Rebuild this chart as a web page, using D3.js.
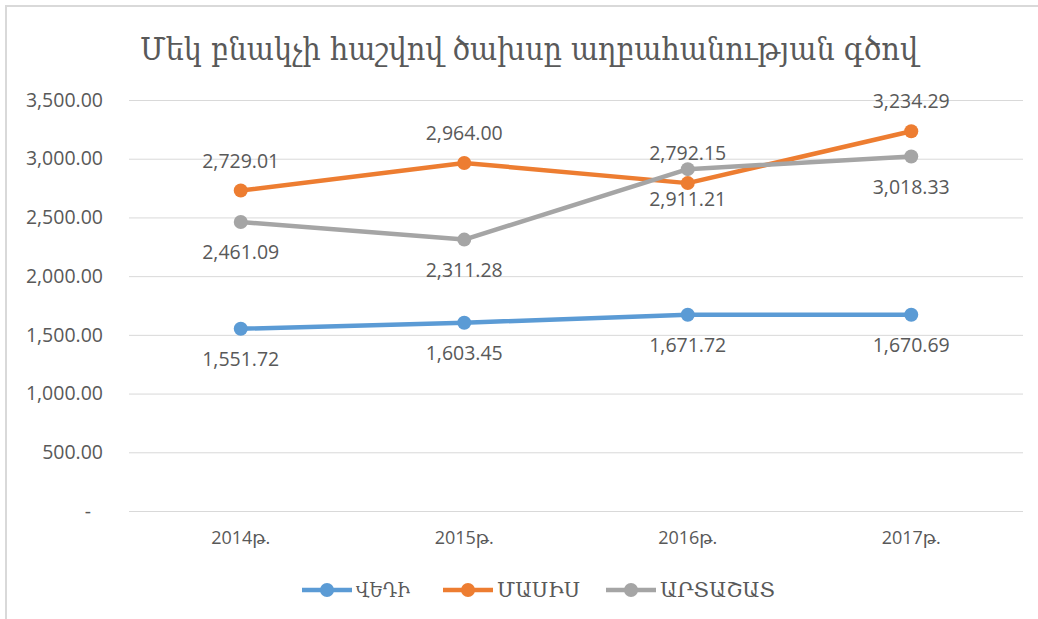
<!DOCTYPE html>
<html>
<head>
<meta charset="utf-8">
<script src="https://cdn.jsdelivr.net/npm/d3@7"></script>
<style>
  body { margin: 0; background: #fff; }
  svg text { font-family: "Open Sans", "DejaVu Sans", sans-serif; }
</style>
</head>
<body>
<svg id="chart"></svg>
<script>
const title = 'Մեկ բնակչի հաշվով ծախսը աղբահանության գծով';
const years = ['2014թ.', '2015թ.', '2016թ.', '2017թ.'];
const seriesNames = ['ՎԵԴԻ', 'ՄԱՍԻՍ', 'ԱՐՏԱՇԱՏ'];
const vedi = [1551.72, 1603.45, 1671.72, 1670.69];
const masis = [2729.01, 2964.00, 2792.15, 3234.29];
const artashat = [2461.09, 2311.28, 2911.21, 3018.33];
const yTicks = [0, 500, 1000, 1500, 2000, 2500, 3000, 3500];

const colors = ['#5B9BD5', '#ED7D31', '#A5A5A5'];
const labelPos = ['below', 'above', 'below'];
const series = [vedi, masis, artashat].map((vals, i) => ({
  name: seriesNames[i], color: colors[i], pos: labelPos[i],
  values: vals.map((v, j) => ({year: years[j], value: v}))
}));

const W = 1038, H = 619;
const svg = d3.select('#chart').attr('width', W).attr('height', H);

// chart border (only top and left visible in the picture)
svg.append('rect')
  .attr('x', 6).attr('y', 6)
  .attr('width', W + 20).attr('height', H + 20)
  .attr('fill', '#fff')
  .attr('stroke', '#d9d9d9')
  .attr('stroke-width', 2);

// scales
const scaleX = d3.scaleBand().domain(years).range([129, 1023]);
const scaleY = d3.scaleLinear().domain([0, 3500]).range([511, 100]);
const cx = d => scaleX(d) + scaleX.bandwidth() / 2;

// title
svg.append('text')
  .attr('x', 140).attr('y', 60)
  .attr('textLength', 778)
  .attr('lengthAdjust', 'spacingAndGlyphs')
  .style('font-family', '"DejaVu Serif", serif')
  .style('font-size', '31px')
  .attr('fill', '#595959')
  .text(title);

// gridlines + y axis
const fmt = d3.format(',.2f');
const yAxis = svg.append('g')
  .attr('transform', 'translate(129,0)')
  .call(d3.axisLeft(scaleY).tickValues(yTicks)
    .tickSize(-(1023 - 129))
    .tickPadding(26)
    .tickFormat(d => d === 0 ? '-' : fmt(d)));
yAxis.select('.domain').remove();
yAxis.selectAll('.tick line').attr('stroke', '#d9d9d9').attr('stroke-width', 1);
yAxis.selectAll('.tick text')
  .attr('fill', '#595959')
  .style('font-size', '19.5px')
  .attr('dx', d => d === 0 ? -12 : 0);

// x axis labels
const xAxis = svg.append('g')
  .attr('transform', 'translate(0,511)')
  .call(d3.axisBottom(scaleX).tickSize(0).tickPadding(20));
xAxis.select('.domain').remove();
xAxis.selectAll('.tick text')
  .attr('fill', '#595959')
  .style('font-size', '18px');

// lines
const line = d3.line().x(d => cx(d.year)).y(d => scaleY(d.value));
const g = svg.append('g');
series.forEach(s => {
  g.append('path')
    .datum(s.values)
    .attr('d', line)
    .attr('fill', 'none')
    .attr('stroke', s.color)
    .attr('stroke-width', 4.5)
    .attr('stroke-linejoin', 'round');
});
series.forEach(s => {
  g.selectAll(null).data(s.values).enter()
    .append('circle')
    .attr('cx', d => cx(d.year))
    .attr('cy', d => scaleY(d.value))
    .attr('r', 7)
    .attr('fill', s.color);
});

// data labels
series.forEach(s => {
  g.selectAll(null).data(s.values).enter()
    .append('text')
    .attr('x', d => cx(d.year))
    .attr('y', d => scaleY(d.value) + (s.pos === 'above' ? -23 : 37))
    .attr('text-anchor', 'middle')
    .attr('fill', '#595959')
    .style('font-size', '19.5px')
    .text(d => fmt(d.value));
});

// legend
const legendX = [302, 443, 606];
const legendW = [54, 83, 115];
const legend = svg.append('g').attr('transform', 'translate(0,590)');
series.forEach((s, i) => {
  const lg = legend.append('g').attr('transform', 'translate(' + legendX[i] + ',0)');
  lg.append('line')
    .attr('x1', 0).attr('x2', 50)
    .attr('stroke', s.color).attr('stroke-width', 4.5);
  lg.append('circle').attr('cx', 25).attr('r', 7).attr('fill', s.color);
  lg.append('text')
    .attr('x', 54).attr('y', 7)
    .attr('textLength', legendW[i])
    .attr('lengthAdjust', 'spacingAndGlyphs')
    .attr('fill', '#595959')
    .style('font-family', '"DejaVu Serif", serif')
    .style('font-size', '20px')
    .text(s.name);
});
</script>
</body>
</html>
